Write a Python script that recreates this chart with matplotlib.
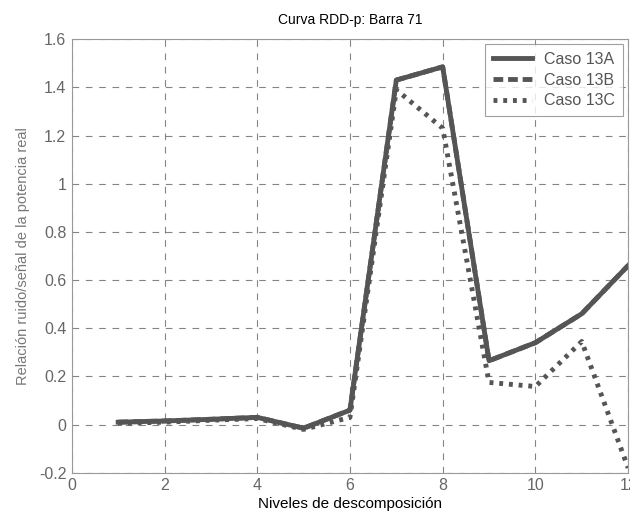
"""Curva RDD-p para la barra 71: relación ruido/señal por nivel de descomposición."""

import matplotlib.pyplot as plt

plt.rcParams["font.family"] = ["Liberation Sans", "DejaVu Sans"]

niveles = [1, 2, 3, 4, 5, 6, 7, 8, 9, 10, 11, 12]
caso_13a = [0.01, 0.015, 0.022, 0.03, -0.015, 0.06, 1.43, 1.485, 0.265, 0.34, 0.46, 0.66]
caso_13b = [0.01, 0.015, 0.022, 0.03, -0.015, 0.06, 1.43, 1.485, 0.265, 0.34, 0.46, 0.66]
caso_13c = [0.005, 0.01, 0.018, 0.025, -0.02, 0.03, 1.39, 1.23, 0.175, 0.158, 0.345, -0.18]

fig = plt.figure(figsize=(6.3, 5.15), dpi=100)
ax = fig.add_axes([0.114, 0.082, 0.883, 0.842])

color = "#555555"
ax.plot(niveles, caso_13a, color=color, lw=3.5, ls="-", label="Caso 13A")
ax.plot(niveles, caso_13b, color=color, lw=3.5, ls=(0, (2, 1)), label="Caso 13B")
ax.plot(niveles, caso_13c, color=color, lw=3.5, ls=(0, (0.8, 1.2)), label="Caso 13C")

ax.set_xlim(0, 12)
ax.set_ylim(-0.2, 1.6)
ax.set_xticks(range(0, 13, 2))
ax.set_yticks([-0.2, 0, 0.2, 0.4, 0.6, 0.8, 1, 1.2, 1.4, 1.6])
ax.set_yticklabels(["-0.2", "0", "0.2", "0.4", "0.6", "0.8", "1", "1.2", "1.4", "1.6"])
ax.grid(True, color="#666666", ls=(0, (6, 6)), lw=0.8, alpha=0.8)
ax.tick_params(colors="#666666", labelsize=11.5, direction="in", length=0, pad=4)
for s in ax.spines.values():
    s.set_color("#999999")

ax.set_title("Curva RDD-p: Barra 71", fontsize=10, pad=11)
ax.set_xlabel("Niveles de descomposición", fontsize=11, labelpad=3)
ax.set_ylabel("Relación ruido/señal de la potencia real", fontsize=10.5, color="#777777", labelpad=6)

leg = ax.legend(loc="upper right", fontsize=11.5, handlelength=2.4, fancybox=False,
                borderaxespad=0.3, labelspacing=0.35, borderpad=0.5)
leg.get_frame().set_edgecolor("#888888")
leg.get_frame().set_linewidth(0.8)
for t in leg.get_texts():
    t.set_color("#555555")

fig.savefig("out.png")
